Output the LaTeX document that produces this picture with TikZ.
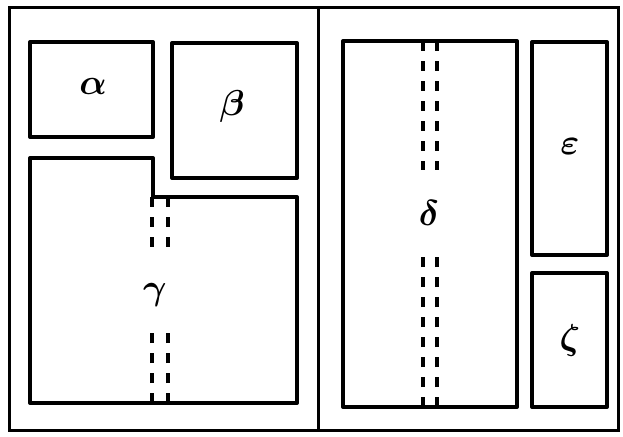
\documentclass[tikz,border=0pt]{standalone}
\usepackage{tikz}

\begin{document}
\begin{tikzpicture}[
  x=1pt, y=-1pt,
  frame/.style={draw, line width=3pt},
  room/.style={draw, line width=4pt, line join=round},
  seam/.style={line width=3.2pt, dash pattern=on 10pt off 10pt},
  letter/.style={scale=3.6, font=\boldmath}
]
\useasboundingbox (0,0) rectangle (623,436);

% outer frame and divider
\draw[frame] (9,8) rectangle (618,430);
\draw[frame] (318,8) -- (318,430);

% left half
\draw[room] (30,42) rectangle (153,137);
\draw[room] (172,43) rectangle (297,178);
\draw[room] (30,158) -- (153,158) -- (153,197) -- (297,197) -- (297,403) -- (30,403) -- cycle;
\draw[seam] (152,197) -- (152,252);
\draw[seam] (168,197) -- (168,252);
\draw[seam] (152,403) -- (152,333);
\draw[seam] (168,403) -- (168,333);

% right half
\draw[room] (343,41) rectangle (517,407);
\draw[room] (532,42) rectangle (607,255);
\draw[room] (532,273) rectangle (607,407);
\draw[seam] (423,41) -- (423,170);
\draw[seam] (437,41) -- (437,170);
\draw[seam] (423,407) -- (423,257);
\draw[seam] (437,407) -- (437,257);

\node[letter] (alpha) at (93,86) {$\alpha$};
\node[letter] (beta)  at (232,106) {$\beta$};
\node[letter] (gamma) at (155,295) {$\gamma$};
\node[letter] (delta) at (429,213) {$\delta$};
\node[letter] (eps)   at (570,146) {$\varepsilon$};
\node[letter] (zeta)  at (570,340) {$\zeta$};
\end{tikzpicture}
\end{document}
